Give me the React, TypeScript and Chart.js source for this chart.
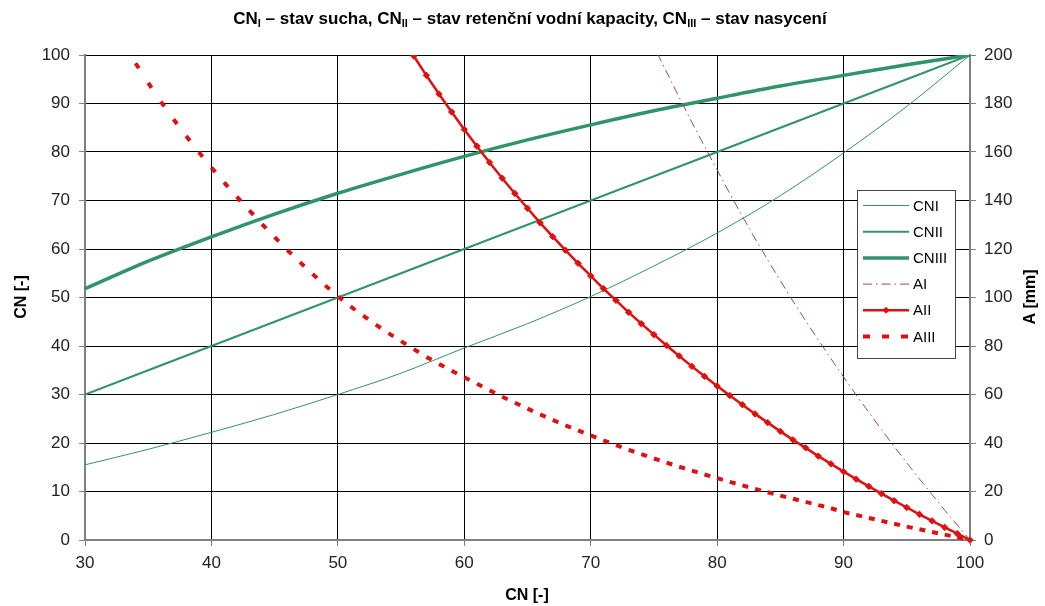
import React, { useEffect, useRef } from 'react';
import { Chart, registerables } from 'chart.js';

Chart.register(...registerables);

// ---------- data ----------
const CN_X = [30, 35, 40, 45, 50, 55, 60, 65, 70, 75, 80, 85, 90, 95, 100];
const CNI_VALUES = [15.5, 18.7, 22.2, 25.9, 30.0, 34.4, 39.6, 44.6, 50.2, 56.5, 63.3, 71.0, 79.8, 89.4, 100];
const CNII_VALUES = [30, 35, 40, 45, 50, 55, 60, 65, 70, 75, 80, 85, 90, 95, 100];
const CNIII_VALUES = [51.8, 57.5, 62.5, 67.2, 71.5, 75.4, 79.1, 82.5, 85.6, 88.5, 91.1, 93.6, 95.8, 98.0, 100];

const AI_X = [74, 75, 76, 77, 78, 79, 80, 81, 82, 83, 84, 85, 86, 87, 88, 89, 90, 91, 92, 93, 94, 95, 96, 97, 98, 99, 100];
const AI_VALUES = [214.5, 203.5, 193.0, 182.5, 172.3, 162.3, 152.6, 142.9, 133.4, 124.3, 115.5, 106.9, 98.5, 90.4, 82.5, 74.8, 67.2, 59.8, 52.6, 45.5, 38.6, 31.8, 25.2, 18.7, 12.3, 6.1, 0];

const AII_X = [56, 57, 58, 59, 60, 61, 62, 63, 64, 65, 66, 67, 68, 69, 70, 71, 72, 73, 74, 75, 76, 77, 78, 79, 80, 81, 82, 83, 84, 85, 86, 87, 88, 89, 90, 91, 92, 93, 94, 95, 96, 97, 98, 99, 100];
const AII_VALUES = [199.6, 191.6, 183.9, 176.5, 169.3, 162.4, 155.7, 149.2, 142.9, 136.8, 130.8, 125.1, 119.5, 114.1, 108.9, 103.7, 98.8, 93.9, 89.2, 84.7, 80.2, 75.9, 71.6, 67.5, 63.5, 59.6, 55.8, 52.0, 48.4, 44.8, 41.3, 38.0, 34.6, 31.4, 28.2, 25.1, 22.1, 19.1, 16.2, 13.4, 10.6, 7.9, 5.2, 2.6, 0];

const AIII_X = [33, 34, 35, 36, 37, 38, 39, 40, 41, 42, 43, 44, 45, 46, 47, 48, 49, 50, 51, 52, 53, 54, 55, 56, 57, 58, 59, 60, 61, 62, 63, 64, 65, 66, 67, 68, 69, 70, 71, 72, 73, 74, 75, 76, 77, 78, 79, 80, 81, 82, 83, 84, 85, 86, 87, 88, 89, 90, 91, 92, 93, 94, 95, 96, 97, 98, 99, 100];
const AIII_VALUES = [205.3, 196.6, 188.5, 180.8, 173.5, 166.6, 160.0, 153.6, 147.5, 141.6, 135.9, 130.3, 124.9, 119.6, 114.6, 109.7, 105.0, 100.4, 96.3, 92.5, 88.8, 85.3, 82.0, 78.7, 75.5, 72.6, 69.8, 67.1, 64.4, 61.7, 59.1, 56.6, 54.2, 51.8, 49.5, 47.3, 45.2, 43.1, 41.1, 39.1, 37.2, 35.4, 33.6, 31.9, 30.2, 28.6, 27.0, 25.5, 24.0, 22.5, 21.1, 19.7, 18.3, 17.0, 15.7, 14.4, 13.1, 11.5, 10.3, 9.1, 7.9, 6.7, 5.5, 4.4, 3.3, 2.2, 1.1, 0];

const SERIES_LABELS = ['CNI', 'CNII', 'CNIII', 'AI', 'AII', 'AIII'];
const TITLE_PARTS: [string, boolean][] = [
  ['CN', false], ['I', true], [' – stav sucha, CN', false], ['II', true],
  [' – stav retenční vodní kapacity, CN', false], ['III', true], [' – stav nasycení', false],
];
const X_TITLE = 'CN [-]';
const Y_LEFT_TITLE = 'CN [-]';
const Y_RIGHT_TITLE = 'A [mm]';

// ---------- styles ----------
const FONT = '"Liberation Sans", Arial, sans-serif';
const GREEN = '#2f9467';
const RED = '#e01010';
const AI_COLOR = '#9c4856';
const AXIS_GRAY = '#808080';
const DASH_LEN = 6;
const AI_DASH = [9, 4, 1.5, 4];

const pts = (xs: number[], ys: number[]) => xs.map((x, i) => ({ x, y: ys[i] }));

const STYLE: Record<string, any> = {
  CNI: { color: GREEN, width: 1, dash: [] },
  CNII: { color: GREEN, width: 2, dash: [] },
  CNIII: { color: GREEN, width: 3.5, dash: [] },
  AI: { color: AI_COLOR, width: 1, dash: AI_DASH },
  AII: { color: RED, width: 2.5, dash: [], marker: true },
  AIII: { color: RED, width: 4, dash: [7, 12] },
};

const textPlugin = {
  id: 'customTexts',
  afterDraw(chart: any) {
    const ctx = chart.ctx;
    ctx.save();
    ctx.fillStyle = '#000';
    // title with subscripts
    const mainFont = `bold 17px ${FONT}`;
    const subFont = `bold 11px ${FONT}`;
    let total = 0;
    for (const [t, sub] of TITLE_PARTS) {
      ctx.font = sub ? subFont : mainFont;
      total += ctx.measureText(t).width;
    }
    let x = 530 - total / 2;
    ctx.textBaseline = 'alphabetic';
    ctx.textAlign = 'left';
    for (const [t, sub] of TITLE_PARTS) {
      ctx.font = sub ? subFont : mainFont;
      ctx.fillText(t, x, sub ? 27 : 24);
      x += ctx.measureText(t).width;
    }
    // axis titles
    ctx.font = `bold 16px ${FONT}`;
    ctx.textAlign = 'center';
    ctx.textBaseline = 'middle';
    ctx.fillText(X_TITLE, 527, 596);
    ctx.save();
    ctx.translate(22, 297);
    ctx.rotate(-Math.PI / 2);
    ctx.fillText(Y_LEFT_TITLE, 0, 0);
    ctx.restore();
    ctx.save();
    ctx.translate(1031, 297);
    ctx.rotate(-Math.PI / 2);
    ctx.fillText(Y_RIGHT_TITLE, 0, 0);
    ctx.restore();

    // legend
    const bx = 857.5, by = 190.5, bw = 98, bh = 168;
    ctx.fillStyle = '#fff';
    ctx.fillRect(bx, by, bw, bh);
    ctx.strokeStyle = '#444';
    ctx.lineWidth = 1;
    ctx.strokeRect(bx, by, bw, bh);
    ctx.font = `15px ${FONT}`;
    ctx.textAlign = 'left';
    SERIES_LABELS.forEach((lab, i) => {
      const s = STYLE[lab];
      const y = 205.5 + i * 26.2;
      ctx.save();
      ctx.strokeStyle = s.color;
      ctx.lineWidth = s.width;
      ctx.setLineDash(s.dash);
      ctx.beginPath();
      ctx.moveTo(863, y);
      ctx.lineTo(909, y);
      ctx.stroke();
      ctx.setLineDash([]);
      if (s.marker) {
        ctx.fillStyle = s.color;
        ctx.beginPath();
        ctx.moveTo(886, y - 3.5);
        ctx.lineTo(889.5, y);
        ctx.lineTo(886, y + 3.5);
        ctx.lineTo(882.5, y);
        ctx.closePath();
        ctx.fill();
      }
      ctx.restore();
      ctx.fillStyle = '#000';
      ctx.textBaseline = 'middle';
      ctx.fillText(lab, 913, y + 1);
    });
    ctx.restore();
  },
};

export default function App() {
  const ref = useRef<HTMLCanvasElement>(null);
  useEffect(() => {
    if (!ref.current) return;
    Chart.defaults.font.family = FONT;
    const chart = new Chart(ref.current, {
      type: 'line',
      data: {
        datasets: [
          {
            label: 'CNI', data: pts(CN_X, CNI_VALUES), yAxisID: 'y',
            borderColor: GREEN, borderWidth: 1, pointRadius: 0, cubicInterpolationMode: 'monotone', order: 6,
          },
          {
            label: 'CNII', data: pts(CN_X, CNII_VALUES), yAxisID: 'y',
            borderColor: GREEN, borderWidth: 2, pointRadius: 0, order: 5,
          },
          {
            label: 'CNIII', data: pts(CN_X, CNIII_VALUES), yAxisID: 'y',
            borderColor: GREEN, borderWidth: 3.5, pointRadius: 0, cubicInterpolationMode: 'monotone', order: 4,
          },
          {
            label: 'AI', data: pts(AI_X, AI_VALUES), yAxisID: 'y1',
            borderColor: AI_COLOR, borderWidth: 1, borderDash: AI_DASH, pointRadius: 0, order: 3,
            clip: { left: false, top: 0, right: false, bottom: false },
          },
          {
            label: 'AII', data: pts(AII_X, AII_VALUES), yAxisID: 'y1',
            borderColor: RED, borderWidth: 2.5, pointRadius: 3.2, pointStyle: 'rectRot',
            pointBackgroundColor: RED, pointBorderColor: RED, pointBorderWidth: 1, order: 2,
            clip: { left: false, top: 0, right: false, bottom: false },
          },
          {
            label: 'AIII', data: pts(AIII_X, AIII_VALUES), yAxisID: 'y1',
            borderColor: RED, borderWidth: 4, pointRadius: 0, order: 1,
            borderCapStyle: 'butt',
            clip: { left: false, top: 0, right: false, bottom: false },
            // one short dash at the start of every data segment (as in the original)
            segment: {
              borderDash: (c: any) => {
                const L = Math.hypot(c.p1.x - c.p0.x, c.p1.y - c.p0.y);
                return [DASH_LEN, Math.max(L - DASH_LEN, 0.5)];
              },
            },
          },
        ] as any,
      },
      options: {
        animation: false,
        responsive: false,
        layout: { padding: { top: 55, left: 0, right: 0, bottom: 0 } },
        plugins: { legend: { display: false }, title: { display: false }, tooltip: { enabled: false } },
        scales: {
          x: {
            type: 'linear', min: 30, max: 100,
            ticks: { stepSize: 10, color: '#222', font: { size: 17 }, padding: 7 },
            grid: { color: '#000', lineWidth: 1, tickLength: 6, tickColor: AXIS_GRAY },
            border: { color: AXIS_GRAY, width: 2 },
            afterFit: (s: any) => { s.height = 66; },
          },
          y: {
            type: 'linear', position: 'left', min: 0, max: 100,
            ticks: { stepSize: 10, color: '#222', font: { size: 17 }, padding: 9 },
            grid: { color: '#000', lineWidth: 1, tickLength: 6, tickColor: AXIS_GRAY },
            border: { color: AXIS_GRAY, width: 2 },
            afterFit: (s: any) => { s.width = 85; },
          },
          y1: {
            type: 'linear', position: 'right', min: 0, max: 200,
            ticks: { stepSize: 20, color: '#222', font: { size: 17 }, padding: 8 },
            grid: { drawOnChartArea: false, tickLength: 6, tickColor: AXIS_GRAY, color: AXIS_GRAY },
            border: { color: AXIS_GRAY, width: 2 },
            afterFit: (s: any) => { s.width = 75; },
          },
        },
      } as any,
      plugins: [textPlugin],
    });
    return () => chart.destroy();
  }, []);
  return (
    <div style={{ position: 'absolute', left: 0, top: 0, width: 1045, height: 606, background: '#fff' }}>
      <canvas ref={ref} width={1045} height={606} style={{ display: 'block' }} />
    </div>
  );
}
